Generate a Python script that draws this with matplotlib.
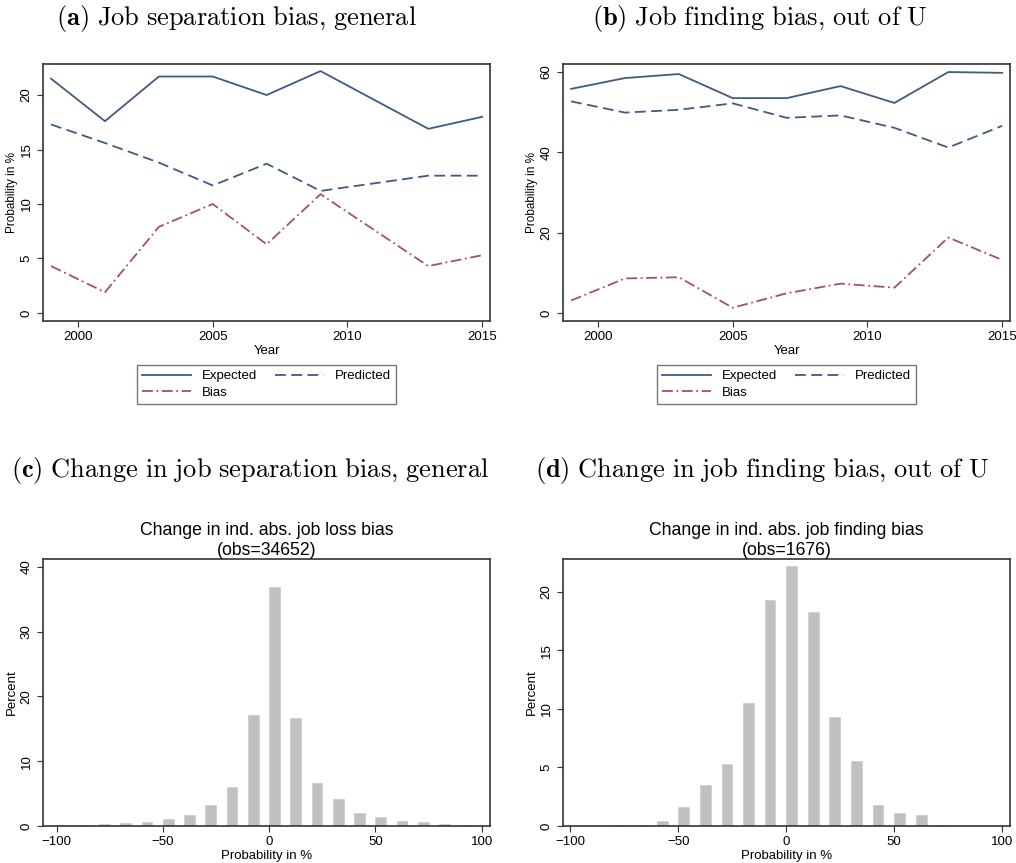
import numpy as np
import matplotlib
matplotlib.use("Agg")
import matplotlib.pyplot as plt

plt.rcParams['font.family'] = ['Liberation Sans', 'DejaVu Sans']
plt.rcParams['mathtext.fontset'] = 'cm'

# panel (a): job separation
years_a = [1999, 2001, 2003, 2005, 2007, 2009, 2013, 2015]
expected_a = [21.5, 17.6, 21.7, 21.7, 20.0, 22.2, 16.9, 18.0]
predicted_a = [17.3, 15.6, 13.8, 11.7, 13.7, 11.2, 12.6, 12.6]
bias_a = [4.3, 1.9, 7.9, 10.0, 6.3, 10.9, 4.3, 5.3]

# panel (b): job finding out of U
years_b = [1999, 2001, 2003, 2005, 2007, 2009, 2011, 2013, 2015]
expected_b = [55.8, 58.5, 59.5, 53.5, 53.5, 56.5, 52.3, 60.0, 59.8]
predicted_b = [52.7, 49.9, 50.6, 52.2, 48.6, 49.2, 46.1, 41.2, 46.6]
bias_b = [3.1, 8.6, 8.9, 1.3, 4.9, 7.3, 6.3, 18.8, 13.2]

# histograms (bin centres, percent)
bin_centers = [-97.5, -87.5, -77.5, -67.5, -57.5, -47.5, -37.5, -27.5, -17.5, -7.5,
               2.5, 12.5, 22.5, 32.5, 42.5, 52.5, 62.5, 72.5, 82.5, 92.5]
pct_c = [0.1, 0.15, 0.3, 0.46, 0.62, 1.03, 1.65, 3.3, 6.07, 17.1,
         36.9, 16.7, 6.6, 4.1, 2.06, 1.34, 0.77, 0.57, 0.36, 0.1]
pct_d = [0.0, 0.0, 0.06, 0.09, 0.43, 1.63, 3.54, 5.3, 10.5, 19.3,
         22.17, 18.26, 9.27, 5.56, 1.8, 1.14, 0.94, 0.08, 0.0, 0.0]

navy = '#3d5c82'
maroon = '#a5525c'
W, H = 1016, 863

fig = plt.figure(figsize=(W / 100, H / 100), dpi=100)


def add_ax(l, t, r, b):
    return fig.add_axes([l / W, 1 - b / H, (r - l) / W, (b - t) / H])


def style(ax):
    for s in ax.spines.values():
        s.set_linewidth(1.2)
        s.set_color('#333333')
    ax.tick_params(axis='both', labelsize=9.5, length=4, width=0.8, color='#333333')
    for lab in ax.get_yticklabels():
        lab.set_rotation(90)
        lab.set_va('center')


def line_panel(ax, years, e, p, b, ylim, yticks, caption, cx):
    l1, = ax.plot(years, e, color=navy, lw=1.3, label='Expected')
    l2, = ax.plot(years, p, color=navy, lw=1.3, ls=(0, (6, 3)), label='Predicted')
    l3, = ax.plot(years, b, color=maroon, lw=1.3, ls=(0, (6, 2, 1, 2)), label='Bias')
    ax.set_xlim(1998.7, 2015.29)
    ax.set_ylim(*ylim)
    ax.set_xticks([2000, 2005, 2010, 2015])
    ax.set_yticks(yticks)
    ax.set_xlabel('Year', fontsize=9.5, labelpad=1)
    ax.set_ylabel('Probability in %', fontsize=8.5, labelpad=2)
    style(ax)
    leg = ax.legend([l1, l3, l2], ['Expected', 'Bias', 'Predicted'],
                    loc='upper center', bbox_to_anchor=(0.5, -0.145), ncol=2,
                    fontsize=9.5, frameon=True, fancybox=False, handlelength=3.7,
                    handletextpad=0.8, columnspacing=1.4, borderpad=0.4,
                    labelspacing=0.3)
    leg.get_frame().set_edgecolor('#555555')
    leg.get_frame().set_linewidth(1.0)
    fig.text(cx / W, 1 - 18 / H, caption, ha='center', va='center', fontsize=19)


def hist_panel(ax, pct, xlim, ylim, yticks, title, caption, cx):
    ax.bar(bin_centers, pct, width=5, color='#c0c0c0', edgecolor='#cfcfcf', lw=0.6)
    ax.set_xlim(*xlim)
    ax.set_ylim(*ylim)
    ax.set_xticks([-100, -50, 0, 50, 100])
    ax.set_yticks(yticks)
    ax.set_xlabel('Probability in %', fontsize=9.5, labelpad=1)
    ax.set_ylabel('Percent', fontsize=9.5, labelpad=2)
    ax.set_title(title, fontsize=12.7, linespacing=1.2, pad=3)
    style(ax)
    fig.text(cx / W, 1 - 470 / H, caption, ha='center', va='center', fontsize=19)


ax_a = add_ax(43, 64, 490, 321)
line_panel(ax_a, years_a, expected_a, predicted_a, bias_a, (-0.74, 22.85),
           [0, 5, 10, 15, 20],
           r'$\mathbf{(a)}\ \mathrm{Job\ separation\ bias{,}\ general}$', 236)

ax_b = add_ax(563, 64, 1010, 321)
line_panel(ax_b, years_b, expected_b, predicted_b, bias_b, (-2, 62),
           [0, 20, 40, 60],
           r'$\mathbf{(b)}\ \mathrm{Job\ finding\ bias{,}\ out\ of\ U}$', 760)

ax_c = add_ax(43, 559, 490, 826)
hist_panel(ax_c, pct_c, (-106.4, 103.9), (0, 41.2), [0, 10, 20, 30, 40],
           'Change in ind. abs. job loss bias\n(obs=34652)',
           r'$\mathbf{(c)}\ \mathrm{Change\ in\ job\ separation\ bias{,}\ general}$', 250)

ax_d = add_ax(563, 559, 1010, 826)
hist_panel(ax_d, pct_d, (-103.4, 103.6), (0, 22.8), [0, 5, 10, 15, 20],
           'Change in ind. abs. job finding bias\n(obs=1676)',
           r'$\mathbf{(d)}\ \mathrm{Change\ in\ job\ finding\ bias{,}\ out\ of\ U}$', 762)

plt.savefig('out.png', dpi=100)
plt.close()
